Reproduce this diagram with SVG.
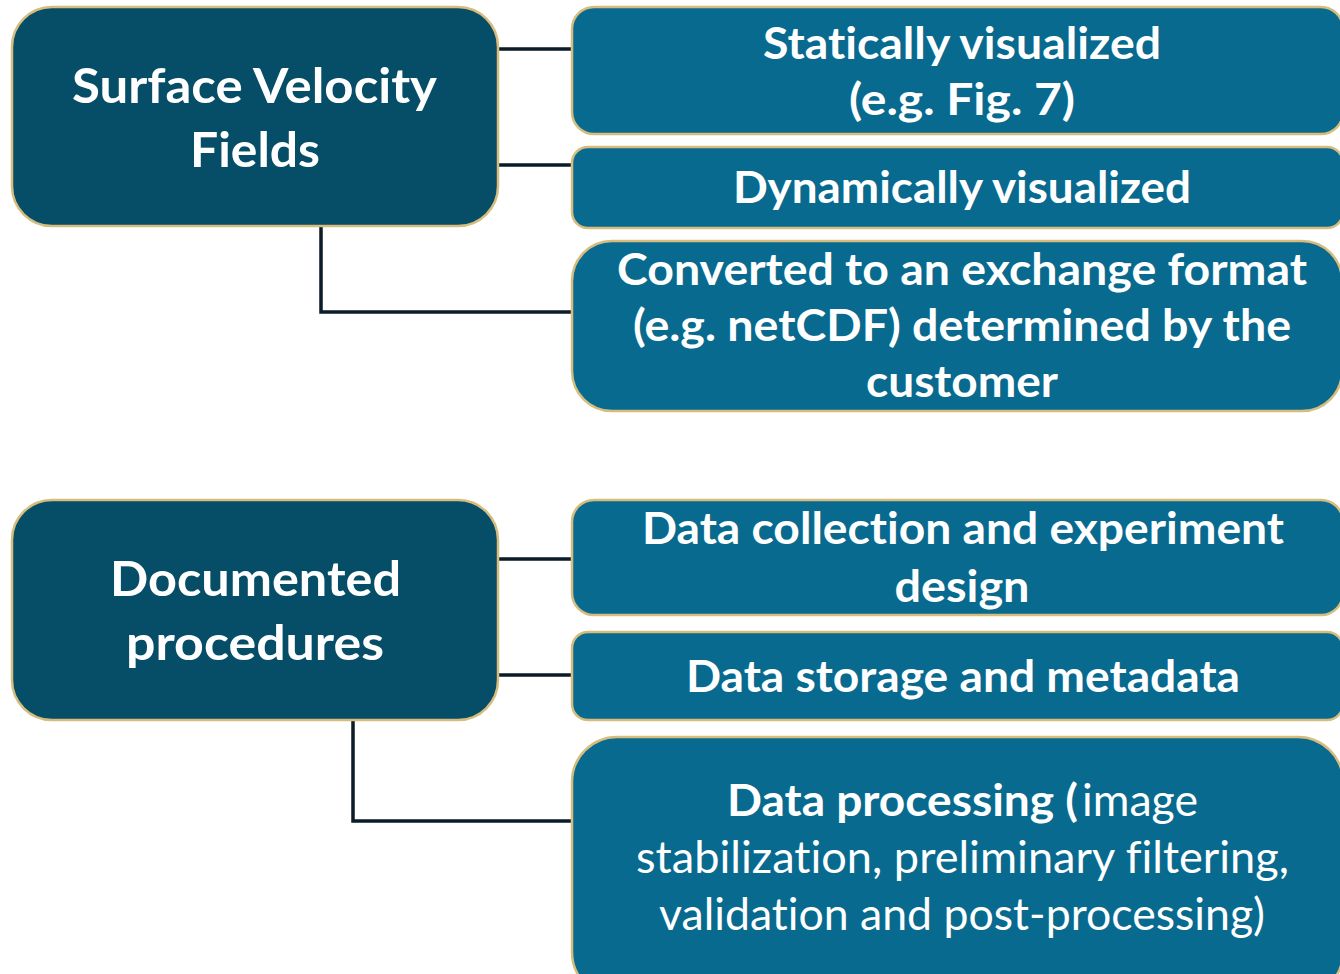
<svg xmlns="http://www.w3.org/2000/svg" width="1340" height="974" viewBox="0 0 1340 974">
<style>
.main{fill:#064D68;stroke:#D7BD7D;stroke-width:2.5}
.sub{fill:#086A8F;stroke:#D7BD7D;stroke-width:2.5}
.conn{fill:none;stroke:#0B1B27;stroke-width:3.5}
text{fill:#fff;font-family:Lato,"Open Sans","Liberation Sans",sans-serif;text-anchor:middle;font-variant-ligatures:none;font-feature-settings:"liga" 0}
.bm{font-size:48px;font-weight:700}
.bs{font-size:44px;font-weight:700}
.rs{font-size:44px;font-weight:400}
</style>
<rect width="1340" height="974" fill="#fff"/>
<g id="connectors">
<path class="conn" d="M498 49H572M498 165H572M321 227V312H572"/>
<path class="conn" d="M498 559H572M498 675H572M353 720V821H572"/>
</g>
<g id="surface-velocity-fields">
<rect class="main" x="12" y="7" width="486" height="219" rx="40"/>
<text class="bm" x="254.5" y="103" textLength="365" lengthAdjust="spacingAndGlyphs">Surface Velocity</text>
<text class="bm" x="255" y="167" textLength="130" lengthAdjust="spacingAndGlyphs">Fields</text>
</g>
<g id="statically-visualized">
<rect class="sub" x="572" y="7" width="771" height="127" rx="22"/>
<text class="bs" x="962" y="59" textLength="398" lengthAdjust="spacingAndGlyphs">Statically visualized</text>
<text class="bs" x="962" y="115" textLength="226" lengthAdjust="spacingAndGlyphs">(e.g. Fig. 7)</text>
</g>
<g id="dynamically-visualized">
<rect class="sub" x="572" y="147" width="771" height="81" rx="16"/>
<text class="bs" x="962" y="203" textLength="458" lengthAdjust="spacingAndGlyphs">Dynamically visualized</text>
</g>
<g id="exchange-format">
<rect class="sub" x="572" y="241" width="770" height="170" rx="40"/>
<text class="bs" x="962" y="285" textLength="690" lengthAdjust="spacingAndGlyphs">Converted to an exchange format</text>
<text class="bs" x="962" y="341" textLength="658" lengthAdjust="spacingAndGlyphs">(e.g. netCDF) determined by the</text>
<text class="bs" x="962" y="397" textLength="192" lengthAdjust="spacingAndGlyphs">customer</text>
</g>
<g id="documented-procedures">
<rect class="main" x="12" y="500" width="486" height="220" rx="40"/>
<text class="bm" x="255.5" y="596" textLength="291" lengthAdjust="spacingAndGlyphs">Documented</text>
<text class="bm" x="255" y="660" textLength="258" lengthAdjust="spacingAndGlyphs">procedures</text>
</g>
<g id="data-collection">
<rect class="sub" x="572" y="500" width="771" height="115" rx="22"/>
<text class="bs" x="963" y="544" textLength="642" lengthAdjust="spacingAndGlyphs">Data collection and experiment</text>
<text class="bs" x="962" y="602" textLength="135" lengthAdjust="spacingAndGlyphs">design</text>
</g>
<g id="data-storage">
<rect class="sub" x="572" y="632" width="771" height="88" rx="16"/>
<text class="bs" x="963" y="692" textLength="554" lengthAdjust="spacingAndGlyphs">Data storage and metadata</text>
</g>
<g id="data-processing">
<rect class="sub" x="572" y="737" width="771" height="260" rx="45"/>
<text class="bs" x="727" y="816" style="text-anchor:start" textLength="351" lengthAdjust="spacingAndGlyphs">Data processing (</text>
<text class="rs" x="1082" y="816" style="text-anchor:start" textLength="116" lengthAdjust="spacingAndGlyphs">image</text>
<text class="rs" x="962.5" y="873" textLength="653" lengthAdjust="spacingAndGlyphs">stabilization, preliminary filtering,</text>
<text class="rs" x="962" y="930" textLength="606" lengthAdjust="spacingAndGlyphs">validation and post-processing)</text>
</g>
</svg>
